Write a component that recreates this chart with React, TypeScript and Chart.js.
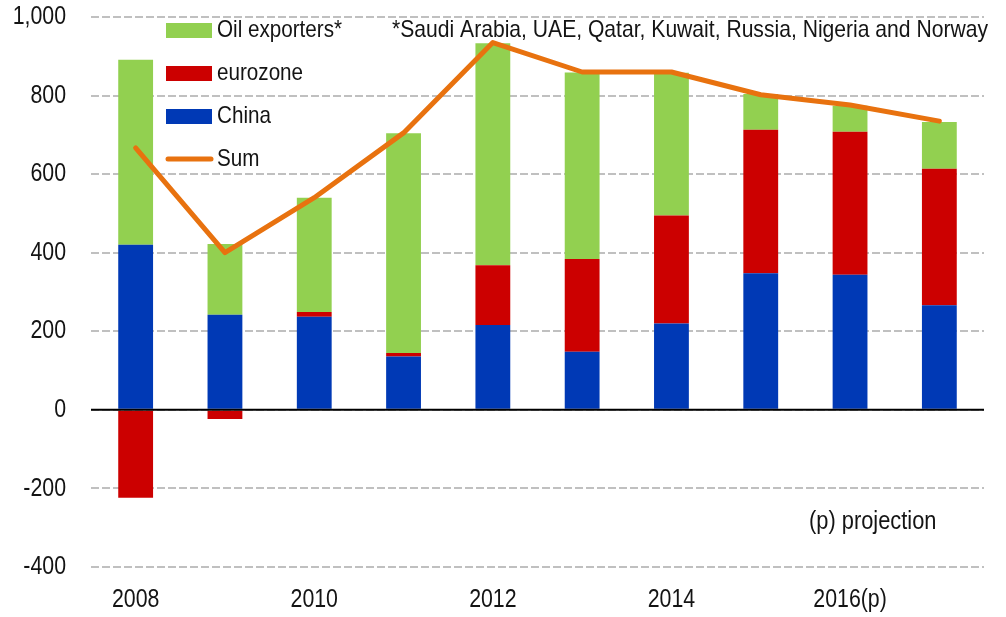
import React, { useEffect, useRef } from "react";
import { Chart, registerables } from "chart.js";

Chart.register(...registerables);

const categories = ["2008", "2009", "2010", "2011", "2012", "2013", "2014", "2015", "2016", "2017"];
const xTickLabels = ["2008", "", "2010", "", "2012", "", "2014", "", "2016(p)", ""];
const china = [420, 242, 237, 136, 216, 148, 220, 348, 344, 266];
const eurozone = [-224, -23, 12, 9, 152, 236, 275, 365, 364, 348];
const oilExporters = [471, 180, 291, 559, 565, 475, 363, 91, 66, 119];
const sum = [667, 400, 540, 705, 935, 860, 860, 802, 776, 735];
const yTicks = [-400, -200, 0, 200, 400, 600, 800, 1000];
const footnote = "*Saudi Arabia, UAE, Qatar, Kuwait, Russia, Nigeria and Norway";
const projectionNote = "(p) projection";

const FONT = "'Liberation Sans', Arial, sans-serif";
const GREEN = "#92D050";
const RED = "#CC0000";
const BLUE = "#0039B5";
const ORANGE = "#E8720F";
const TEXT = "#141414";

const legendItems = [
  { label: "Oil exporters*", color: GREEN, kind: "box" },
  { label: "eurozone", color: RED, kind: "box" },
  { label: "China", color: BLUE, kind: "box" },
  { label: "Sum", color: ORANGE, kind: "line" },
];

function drawNarrow(ctx: any, text: string, x: number, y: number, size: number, align: string, sx: number, fitWidth?: number) {
  ctx.save();
  ctx.font = `${size}px ${FONT}`;
  ctx.textAlign = align;
  ctx.textBaseline = "middle";
  ctx.fillStyle = TEXT;
  let s = sx;
  if (fitWidth) {
    const w = ctx.measureText(text).width;
    s = fitWidth / w;
  }
  ctx.translate(x, y);
  ctx.scale(s, 1);
  ctx.fillText(text, 0, 0);
  ctx.restore();
}

const overlayPlugin = {
  id: "overlay",
  afterDatasetsDraw(chart: any) {
    const { ctx, chartArea, scales } = chart;
    const y0 = scales.y.getPixelForValue(0);
    ctx.save();
    ctx.strokeStyle = "#000";
    ctx.lineWidth = 2;
    ctx.beginPath();
    ctx.moveTo(chartArea.left, y0);
    ctx.lineTo(chartArea.right, y0);
    ctx.stroke();
    ctx.restore();
  },
  afterDraw(chart: any) {
    const { ctx, scales } = chart;
    scales.y.ticks.forEach((t: any) => {
      const py = scales.y.getPixelForValue(t.value);
      drawNarrow(ctx, Number(t.value).toLocaleString("en-US"), 66, py, 26, "right", 0.82);
    });
    categories.forEach((_c, i) => {
      const lbl = xTickLabels[i];
      if (!lbl) return;
      const px = scales.x.getPixelForValue(i);
      drawNarrow(ctx, lbl, px, 600, 26, "center", 0.82);
    });
    const rowY = [30, 73, 116, 159];
    legendItems.forEach((it, i) => {
      const cy = rowY[i];
      ctx.save();
      if (it.kind === "box") {
        ctx.fillStyle = it.color;
        ctx.fillRect(166, cy - 7, 46, 15);
      } else {
        ctx.strokeStyle = it.color;
        ctx.lineWidth = 5;
        ctx.lineCap = "round";
        ctx.beginPath();
        ctx.moveTo(168, cy);
        ctx.lineTo(211, cy);
        ctx.stroke();
      }
      ctx.restore();
      drawNarrow(ctx, it.label, 217, cy, 24, "left", 0.86);
    });
    drawNarrow(ctx, footnote, 392, 30, 24, "left", 0.86, 596);
    drawNarrow(ctx, projectionNote, 809, 522, 26, "left", 0.84);
  },
};

export default function App() {
  const ref = useRef<HTMLCanvasElement>(null);
  useEffect(() => {
    document.body.style.margin = "0";
    const canvas = ref.current!;
    const chart = new Chart(canvas, {
      type: "bar",
      data: {
        labels: categories,
        datasets: [
          {
            type: "line",
            label: "Sum",
            data: sum,
            borderColor: ORANGE,
            backgroundColor: ORANGE,
            borderWidth: 5,
            pointRadius: 0,
            tension: 0,
            borderCapStyle: "round",
            borderJoinStyle: "round",
            stack: "line",
            order: 0,
          } as any,
          { label: "China", data: china, backgroundColor: BLUE, stack: "bars", order: 1 },
          { label: "eurozone", data: eurozone, backgroundColor: RED, stack: "bars", order: 1 },
          { label: "Oil exporters*", data: oilExporters, backgroundColor: GREEN, stack: "bars", order: 1 },
        ],
      },
      options: {
        animation: false,
        responsive: false,
        layout: { padding: { top: 17, right: 22, left: 0, bottom: 0 } },
        plugins: { legend: { display: false }, tooltip: { enabled: false } },
        datasets: { bar: { categoryPercentage: 1, barPercentage: 0.39 } } as any,
        scales: {
          x: {
            stacked: true,
            grid: { display: false, drawTicks: false },
            border: { display: false },
            ticks: { display: false, autoSkip: false, maxRotation: 0 },
            afterFit: (s: any) => {
              s.height = 50;
              s.paddingLeft = 0;
              s.paddingRight = 0;
            },
          },
          y: {
            stacked: true,
            min: -400,
            max: 1000,
            afterBuildTicks: (s: any) => {
              s.ticks = yTicks.map((v) => ({ value: v }));
            },
            grid: { color: "#C0C0C0", lineWidth: 2, drawTicks: false },
            border: { display: false, dash: [8, 3] },
            ticks: { display: false },
            afterFit: (s: any) => {
              s.width = 91;
              s.paddingTop = 0;
              s.paddingBottom = 0;
            },
          },
        },
      },
      plugins: [overlayPlugin],
    });
    return () => chart.destroy();
  }, []);
  return (
    <div style={{ width: 1006, height: 617 }}>
      <canvas ref={ref} width={1006} height={617} style={{ display: "block" }} />
    </div>
  );
}
